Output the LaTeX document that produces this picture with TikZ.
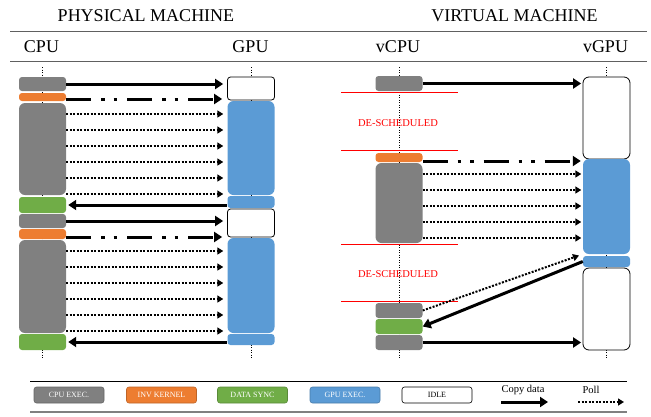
\documentclass[tikz,border=0pt]{standalone}
\usepackage{fontspec}
\setmainfont{Liberation Serif}
\usetikzlibrary{arrows.meta}
\definecolor{cpugray}{HTML}{808080}
\definecolor{invorange}{HTML}{ED7D31}
\definecolor{syncgreen}{HTML}{70AD47}
\definecolor{gpublue}{HTML}{5B9BD5}
\definecolor{rulegray}{HTML}{606060}
\definecolor{cutred}{HTML}{FF0000}

\begin{document}
\begin{tikzpicture}[x=1pt, y=-1pt,
  blk/.style={inner sep=0pt, rounded corners=3pt, minimum width=47pt},
  big/.style={rounded corners=6pt},
  cpuexec/.style={blk, fill=cpugray},
  invkernel/.style={blk, fill=invorange},
  datasync/.style={blk, fill=syncgreen},
  gpuexec/.style={blk, fill=gpublue},
  idle/.style={blk, draw=black, line width=0.8pt, fill=white},
  title/.style={font=\fontsize{18}{20}\selectfont},
  desched/.style={text=cutred, font=\fontsize{10.5}{12}\selectfont},
  cut/.style={draw=cutred, line width=1.3pt},
  timeline/.style={line width=0.8pt, dash pattern=on 1pt off 1.5pt},
  copy/.style={line width=3pt, -{Triangle[length=8pt,width=10pt]}},
  launch/.style={line width=3pt, dash pattern=on 25pt off 10pt on 3.5pt off 9pt on 3.5pt off 10pt, -{Triangle[length=8pt,width=10pt]}},
  poll/.style={line width=2pt, dash pattern=on 2pt off 1.5pt, -{Triangle[length=6pt,width=7pt]}},
  keybox/.style={draw, line width=0.6pt, rounded corners=2.5pt, minimum width=70pt, minimum height=16pt, inner sep=0pt, font=\fontsize{8}{9}\selectfont},
  keytext/.style={font=\fontsize{10.5}{12}\selectfont}]
  \useasboundingbox (0,0) rectangle (651,416);

  % headings
  \node [title] (HP) at (146, 16) {PHYSICAL MACHINE};
  \node [title] (HV) at (514.5, 16) {VIRTUAL MACHINE};
  \node [title] (HC) at (41.5, 47) {CPU};
  \node [title] (HG) at (250.5, 47) {GPU};
  \node [title] (HW) at (398, 47) {vCPU};
  \node [title] (HX) at (605.5, 47) {vGPU};
  \draw [rulegray, line width=1pt] (10, 31) -- (647, 31);
  \draw [rulegray, line width=1pt] (10, 61.5) -- (647, 61.5);

  % time lines
  \coordinate (TC) at (42.5, 67);   \coordinate (BC) at (42.5, 358);
  \coordinate (TG) at (251, 67);    \coordinate (BG) at (251, 358);
  \coordinate (TV) at (399, 67);    \coordinate (BV) at (399, 358);
  \coordinate (TW) at (606.5, 67);  \coordinate (BW) at (606.5, 358);
  \draw [timeline] (TC) -- (BC);
  \draw [timeline] (TG) -- (BG);
  \draw [timeline] (TV) -- (BV);
  \draw [timeline] (TW) -- (BW);

  % physical CPU
  \node [cpuexec, minimum height=14pt] (CA) at (42.5, 84) {};
  \node [invkernel, minimum height=8pt] (CB) at (42.5, 97) {};
  \node [cpuexec, big, minimum height=92pt] (CC) at (42.5, 149) {};
  \node [datasync, minimum height=16pt] (CD) at (42.5, 205) {};
  \node [cpuexec, minimum height=14pt] (CE) at (42.5, 221) {};
  \node [invkernel, minimum height=10pt] (CF) at (42.5, 234) {};
  \node [cpuexec, big, minimum height=93pt] (CG) at (42.5, 286.5) {};
  \node [datasync, minimum height=16pt] (CH) at (42.5, 342) {};
  % physical GPU
  \node [idle, minimum height=23pt] (GA) at (251, 88.5) {};
  \node [gpuexec, big, minimum height=94pt] (GB) at (251, 148) {};
  \node [gpuexec, minimum height=12pt] (GC) at (251, 202) {};
  \node [idle, minimum height=28pt] (GD) at (251, 223) {};
  \node [gpuexec, big, minimum height=95pt] (GE) at (251, 285.5) {};
  \node [gpuexec, minimum height=11pt] (GF) at (251, 339.5) {};

  \draw [copy, shorten >=4pt] (CA.east) -- (CA.east -| GA.west);
  \draw [launch, shorten >=5pt] (CB.east |- 0,99) -- (GA.west |- 0,99);
  \foreach \y in {114,130,...,194}
    \draw [poll, shorten >=4pt] (CC.east |- 0,\y) -- (GB.west |- 0,\y);
  \draw [copy, shorten >=2pt] (CD.east -| GC.west) -- (CD.east);
  \draw [copy, shorten >=4pt] (CE.east) -- (CE.east -| GD.west);
  \draw [launch, shorten >=5pt] (CF.east |- 0,237) -- (GD.west |- 0,237);
  \foreach \y in {251,267,...,331}
    \draw [poll, shorten >=4pt] (CG.east |- 0,\y) -- (GE.west |- 0,\y);
  \draw [copy, shorten >=2pt] (CH.east -| GF.west) -- (CH.east);

  % virtual CPU
  \node [cpuexec, minimum height=15pt] (VA) at (399, 83.5) {};
  \node [invkernel, minimum height=9pt] (VB) at (399, 157.5) {};
  \node [cpuexec, big, minimum height=80pt] (VC) at (399, 203) {};
  \node [cpuexec, minimum height=15pt] (VD) at (399, 310.5) {};
  \node [datasync, minimum height=15pt] (VE) at (399, 326.5) {};
  \node [cpuexec, minimum height=15pt] (VF) at (399, 342.5) {};
  \node [desched] (DA) at (398, 123) {DE-SCHEDULED};
  \node [desched] (DB) at (398, 274) {DE-SCHEDULED};
  \draw [cut] ([xshift=-34pt, yshift=-1pt]VA.south west) -- ([xshift=35pt, yshift=-1pt]VA.south east);
  \draw [cut] ([xshift=-34pt, yshift=2pt]VB.north west) -- ([xshift=35pt, yshift=2pt]VB.north east);
  \draw [cut] ([xshift=-34pt, yshift=-1pt]VC.south west) -- ([xshift=35pt, yshift=-1pt]VC.south east);
  \draw [cut] ([xshift=-34pt, yshift=1pt]VD.north west) -- ([xshift=35pt, yshift=1pt]VD.north east);
  % virtual GPU
  \node [idle, big, minimum height=82pt] (WA) at (606.5, 118) {};
  \node [gpuexec, big, minimum height=95pt] (WB) at (606.5, 206.5) {};
  \node [gpuexec, minimum height=11pt] (WC) at (606.5, 261.5) {};
  \node [idle, big, minimum height=82pt] (WD) at (606.5, 309) {};

  \draw [copy, shorten >=1.5pt] (VA.east) -- (VA.east -| WA.west);
  \draw [launch, shorten >=2pt] (VB.east |- 0,161) -- (WB.west |- 0,161);
  \foreach \y in {174,190,...,238}
    \draw [poll, shorten >=1.5pt] (VC.east |- 0,\y) -- (WB.west |- 0,\y);
  \draw [poll, shorten >=4pt] (VD.east) -- (WB.south west);
  \draw [copy] (WC.west) -- (VE.east);
  \draw [copy, shorten >=1.5pt] (VF.east) -- (VF.east -| WD.west);

  % key
  \draw [black, line width=0.8pt] (30, 381) -- (627, 381);
  \draw [cpugray, line width=1.5pt] (30, 412) -- (627, 412);
  \node [keybox, draw=cpugray!80!black, fill=cpugray, text=white] (KA) at (69, 395) {CPU EXEC.};
  \node [keybox, draw=invorange!80!black, fill=invorange, text=white] (KB) at (161.5, 395) {INV KERNEL};
  \node [keybox, draw=syncgreen!80!black, fill=syncgreen, text=white] (KC) at (252.5, 395) {DATA SYNC};
  \node [keybox, draw=gpublue!80!black, fill=gpublue, text=white] (KD) at (345, 395) {GPU EXEC.};
  \node [keybox, draw=black, fill=white] (KE) at (437, 395) {IDLE};
  \node [keytext] (KF) at (523, 390) {Copy data};
  \node [keytext] (KG) at (591, 390) {Poll};
  \coordinate (FA) at (501, 402);
  \coordinate (FB) at (548, 402);
  \coordinate (PA) at (578, 402);
  \coordinate (PB) at (624, 402);
  \draw [copy] (FA) -- (FB);
  \draw [poll] (PA) -- (PB);
\end{tikzpicture}
\end{document}
